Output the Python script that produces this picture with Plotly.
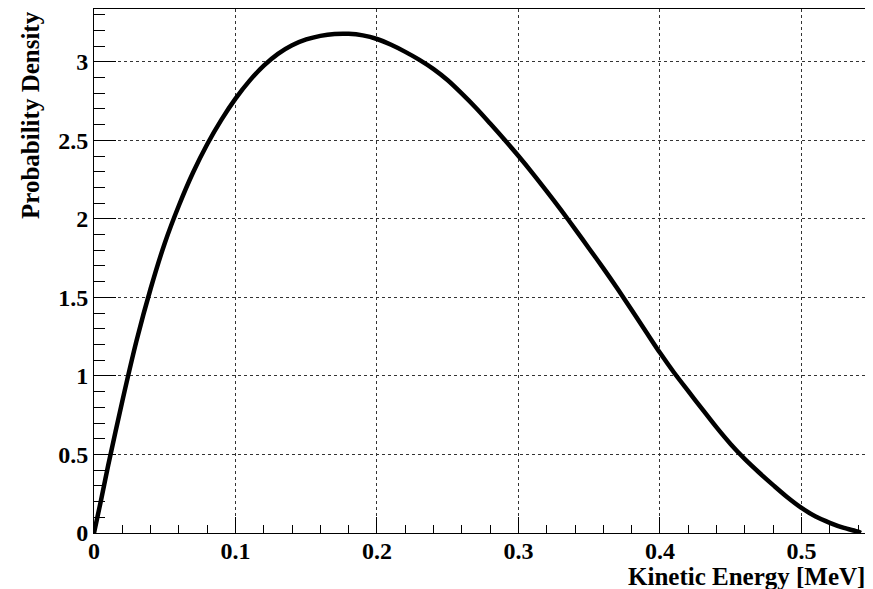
import plotly.graph_objects as go

# Kinetic energy [MeV] and probability density
energy = [0.0, 0.005, 0.01, 0.02, 0.03, 0.04, 0.05, 0.06, 0.07, 0.08, 0.09,
          0.10, 0.11, 0.12, 0.13, 0.14, 0.15, 0.16, 0.17, 0.18, 0.19,
          0.20, 0.21, 0.22, 0.23, 0.24, 0.25, 0.26, 0.27, 0.28, 0.29,
          0.30, 0.31, 0.32, 0.33, 0.34, 0.35, 0.36, 0.37, 0.38, 0.39,
          0.40, 0.41, 0.42, 0.43, 0.44, 0.45, 0.46, 0.47, 0.48, 0.49,
          0.50, 0.51, 0.52, 0.53, 0.54, 0.542]
density = [0.0, 0.21, 0.43, 0.839, 1.222, 1.555, 1.845, 2.085, 2.295, 2.475, 2.63,
           2.765, 2.88, 2.975, 3.05, 3.105, 3.142, 3.165, 3.177, 3.178, 3.168,
           3.145, 3.108, 3.063, 3.012, 2.953, 2.882, 2.797, 2.706, 2.607, 2.505,
           2.40, 2.29, 2.175, 2.057, 1.935, 1.81, 1.685, 1.555, 1.42, 1.283,
           1.147, 1.02, 0.903, 0.787, 0.672, 0.565, 0.47, 0.385, 0.305, 0.228,
           0.16, 0.105, 0.065, 0.032, 0.008, 0.0]

x_ticks = [0, 0.1, 0.2, 0.3, 0.4, 0.5]
x_labels = ["0", "0.1", "0.2", "0.3", "0.4", "0.5"]
y_ticks = [0, 0.5, 1, 1.5, 2, 2.5, 3]
y_labels = ["0", "0.5", "1", "1.5", "2", "2.5", "3"]

x_title = "Kinetic Energy [MeV]"
y_title = "Probability Density"

font_family = "Liberation Serif"
label_font = dict(family=font_family, size=24, color="black")
title_font = dict(family=font_family, size=25, color="black")

fig = go.Figure()
fig.add_trace(go.Scatter(
    x=energy, y=density, mode="lines",
    line=dict(color="black", width=4.5, shape="spline", smoothing=0.8),
    showlegend=False, hoverinfo="skip",
))

axis_common = dict(
    showline=True, linecolor="black", linewidth=1, mirror=True,
    showgrid=True, gridcolor="#333333", griddash="dot", gridwidth=1,
    zeroline=False, ticks="inside", tickcolor="black", tickwidth=1,
    tickfont=label_font,
)

fig.update_xaxes(
    range=[0, 0.5463], tickvals=x_ticks,
    ticktext=["<b>" + t + "</b>" for t in x_labels], ticklen=16,
    ticklabelstandoff=-4,
    minor=dict(dtick=0.02, tick0=0, ticks="inside", ticklen=8,
               tickcolor="black", showgrid=False),
    **axis_common,
)
fig.update_yaxes(
    range=[0, 3.336], tickvals=y_ticks,
    ticktext=["<b>" + t + "</b>" for t in y_labels], ticklen=22,
    minor=dict(dtick=0.1, tick0=0, ticks="inside", ticklen=11,
               tickcolor="black", showgrid=False),
    **axis_common,
)

fig.add_annotation(
    text="<b>" + x_title + "</b>", xref="paper", yref="paper",
    x=1.0, y=0, xanchor="right", yanchor="middle", yshift=-43, showarrow=False,
    font=title_font,
)
fig.add_annotation(
    text="<b>" + y_title + "</b>", xref="paper", yref="paper",
    x=0, y=1.0, xanchor="center", yanchor="top", xshift=-64, showarrow=False,
    textangle=-90,
    font=title_font,
)

# the page body adds an 8px offset; the figure is sized to fit the window
fig.update_layout(
    width=865, height=581,
    margin=dict(l=86, r=6, t=1, b=56),
    paper_bgcolor="white", plot_bgcolor="white",
    font=dict(family=font_family, color="black"),
)

fig.write_html("out.html")
